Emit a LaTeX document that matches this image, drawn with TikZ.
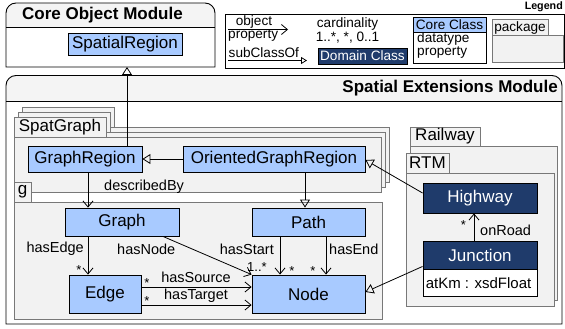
\documentclass[tikz,border=0pt]{standalone}
\usepackage{fontspec}
\setmainfont{Liberation Sans}
\usetikzlibrary{arrows.meta}

\definecolor{clsblue}{RGB}{168,202,255}
\definecolor{domblue}{RGB}{31,59,107}
\definecolor{pkgfill}{RGB}{242,242,242}
\definecolor{pkgline}{RGB}{120,120,120}
\definecolor{hdrfill}{RGB}{244,244,244}

\newcommand\setfs[1]{\fontsize{#1}{#1}\selectfont}

\tikzset{
  cls/.style={draw=black, line width=0.9pt, fill=clsblue, inner sep=0pt, font=\setfs{17}},
  domcls/.style={cls, fill=domblue, text=white},
  attrbox/.style={draw=black, line width=0.9pt, fill=white, inner sep=0pt},
  lbl/.style={inner sep=0pt, font=\setfs{14.5}},
  mult/.style={inner sep=0pt, font=\setfs{13}, anchor=base},
  lgtxt/.style={inner sep=0pt, font=\setfs{13.6}},
  pkg/.style={draw=pkgline, fill=pkgfill, line width=0.8pt},
  pkglbl/.style={inner sep=0pt, font=\setfs{17}},
  modline/.style={draw=black, line width=0.9pt},
  inh/.style={draw=black, line width=0.8pt, -{Triangle[open,length=8pt,width=10pt]}},
  assoc/.style={draw=black, line width=0.8pt, -{Straight Barb[length=6pt,width=10pt]}},
}

\begin{document}
\begin{tikzpicture}[x=1pt,y=1pt]
\useasboundingbox (0,0) rectangle (565,-329);

% ---------- Core Object Module ----------
\fill[hdrfill] (6,-27) -- (6,-13) arc[start angle=180,end angle=90,radius=10]
  -- (205,-3) arc[start angle=90,end angle=0,radius=10] -- (215,-27) -- cycle;
\draw[modline] (6,-67) -- (6,-13) arc[start angle=180,end angle=90,radius=10]
  -- (205,-3) arc[start angle=90,end angle=0,radius=10] -- (215,-67) -- cycle;
\draw[modline] (6,-27) -- (215,-27);
\node[anchor=west, inner sep=0pt, font=\setfs{17}\bfseries] (coretitle) at (22,-15.5) {Core Object Module};
\coordinate (corebottom) at (127,-67);
\node[cls, minimum width=114pt, minimum height=22pt] (sr) at (125,-44) {SpatialRegion};

% ---------- Legend ----------
\draw[modline] (225,-14) rectangle (564,-68);
\node[anchor=east, inner sep=0pt, font=\setfs{10.7}\bfseries] (lgtitle) at (563,-7) {Legend};
\node[lgtxt, anchor=base] (lgobj) at (254,-25.5) {object};
\node[lgtxt, anchor=base west] (lgprop) at (228,-38.5) {property};
\coordinate (lgoa) at (228,-29.5);
\coordinate (lgob) at (288,-29.5);
\draw[assoc] (lgoa) -- (lgob);
\node[lgtxt, anchor=base west] (lgsub) at (228.5,-58) {subClassOf};
\coordinate (lgsa) at (228,-60.5);
\coordinate (lgsb) at (307,-60.5);
\draw[draw=black, line width=0.8pt, -{Triangle[open,length=6pt,width=7pt]}] (lgsa) -- (lgsb);
\node[lgtxt, anchor=base] (lgcard) at (347.5,-27.5) {cardinality};
\node[lgtxt, anchor=base] (lgmult) at (347.5,-41.5) {1..*, *, 0..1};
\node[domcls, font=\setfs{13.6}, minimum width=89pt, minimum height=16pt] (lgdom) at (362.5,-56) {Domain Class};
\node[cls, font=\setfs{13.6}, minimum width=73pt, minimum height=15pt] (lgcore) at (449.5,-24.5) {Core Class};
\node[attrbox, minimum width=73pt, minimum height=31pt, anchor=north] (lgattr) at (lgcore.south) {};
\node[lgtxt, anchor=base west] (lgdt) at (417,-43) {datatype};
\node[lgtxt, anchor=base west] (lgdp) at (417,-56) {property};
\draw[pkg] (492,-19.5) rectangle (548,-35);
\draw[pkg] (492,-35) rectangle (563,-62.5);
\node[lgtxt] (lgpkg) at (520,-27.5) {package};

% ---------- Spatial Extensions Module ----------
\fill[hdrfill] (6,-101) -- (6,-85.5) arc[start angle=180,end angle=90,radius=10]
  -- (552,-75.5) arc[start angle=90,end angle=0,radius=10] -- (562,-101) -- cycle;
\draw[modline] (6,-324) -- (6,-85.5) arc[start angle=180,end angle=90,radius=10]
  -- (552,-75.5) arc[start angle=90,end angle=0,radius=10] -- (562,-324) -- cycle;
\draw[modline] (6,-101) -- (562,-101);
\node[anchor=east, inner sep=0pt, font=\setfs{17}\bfseries] (sptitle) at (558,-88) {Spatial Extensions Module};

% stacked SpatGraph package
\foreach \k in {2,1,0} {
  \begin{scope}[shift={({4*\k},{5*\k})}]
    \draw[pkg] (14,-117) rectangle (106,-137);
    \draw[pkg] (14,-137) rectangle (381,-192);
  \end{scope}
}
\node[pkglbl] (spatlbl) at (60,-127) {SpatGraph};

% package g
\draw[pkg] (14,-182) rectangle (31,-202);
\draw[pkg] (14,-202) rectangle (382,-319);
\node[pkglbl] (glbl) at (22.5,-191.5) {g};

% packages Railway and RTM
\draw[pkg] (410,-127) rectangle (480,-146);
\draw[pkg] (410,-146) rectangle (557,-300);
\node[pkglbl] (raillbl) at (445,-136.5) {Railway};
\draw[pkg] (406,-153) rectangle (449,-173);
\draw[pkg] (406,-173) rectangle (554,-306);
\node[pkglbl] (rtmlbl) at (427.5,-163) {RTM};

% ---------- classes ----------
\node[cls, minimum width=114pt, minimum height=26pt] (gr) at (85,-159) {GraphRegion};
\node[cls, minimum width=182pt, minimum height=26pt] (ogr) at (274,-159) {OrientedGraphRegion};
\node[cls, minimum width=114pt, minimum height=28pt] (gph) at (122,-222) {Graph};
\node[cls, minimum width=113pt, minimum height=28pt] (path) at (308.5,-222) {Path};
\node[cls, minimum width=72pt, minimum height=38pt] (edge) at (105,-294) {Edge};
\node[cls, minimum width=113pt, minimum height=38pt] (nd) at (308.5,-294) {Node};
\node[domcls, minimum width=114pt, minimum height=30pt] (hw) at (480,-198) {Highway};
\node[domcls, minimum width=114pt, minimum height=28pt] (jn) at (480,-255) {Junction};
\node[attrbox, minimum width=114pt, minimum height=27pt, anchor=north] (jnattr) at (jn.south) {};
\node[anchor=west, inner sep=0pt, font=\setfs{15}] (atkm) at ([xshift=3pt]jnattr.west) {atKm : xsdFloat};

% ---------- connectors ----------
\coordinate (xdesc) at (88,0);
\coordinate (xhn) at (163,0);
\coordinate (xhs) at (280,0);
\coordinate (xhe) at (326,0);
\coordinate (xop) at (305,0);
\coordinate (xor) at (474,0);
\coordinate (ysrc) at (0,-287);
\coordinate (ytgt) at (0,-305);

\draw[inh] (corebottom |- gr.north) -- (corebottom);
\draw[inh] (ogr.west) -- (gr.east);
\draw[inh] (xop |- ogr.south) -- (xop |- path.north);
\draw[inh] ([yshift=5pt]hw.west) -- ([yshift=-1pt]ogr.east);
\draw[inh] ([yshift=3pt]jn.south west) -- ([yshift=2pt]nd.east);

\draw[assoc] (xdesc |- gr.south) -- (xdesc |- gph.north);
\draw[assoc] (xdesc |- gph.south) -- (xdesc |- edge.north);
\draw[assoc] (xhn |- gph.south) -- (nd.north west);
\draw[assoc] (xhs |- path.south) -- (xhs |- nd.north);
\draw[assoc] (xhe |- path.south) -- (xhe |- nd.north);
\draw[assoc] (edge.east |- ysrc) -- (nd.west |- ysrc);
\draw[assoc] (edge.east |- ytgt) -- (nd.west |- ytgt);
\draw[assoc] (xor |- jn.north) -- (xor |- hw.south);

% ---------- connector labels ----------
\node[lbl, anchor=west] (ldesc) at (104,-187) {describedBy};
\node[lbl, anchor=east] (ledge) at (84,-249) {hasEdge};
\node[lbl, anchor=west] (lnode) at (117,-249) {hasNode};
\node[lbl, anchor=east] (lstart) at (274,-249) {hasStart};
\node[lbl, anchor=west] (lend) at (329,-249) {hasEnd};
\node[lbl] (lsrc) at (196,-277) {hasSource};
\node[lbl] (ltgt) at (196,-296) {hasTarget};
\node[lbl, anchor=west] (lroad) at (480,-230) {onRoad};

\node[mult] (medge) at (79,-274) {*};
\node[mult] (mnode) at (257,-271.5) {1..*};
\node[mult] (mstart) at (292,-275.5) {*};
\node[mult] (mend) at (313,-275.5) {*};
\node[mult] (msrc) at (147,-287.5) {*};
\node[mult] (mtgt) at (147,-305.8) {*};
\node[mult] (mroad) at (463.3,-229.2) {*};
\end{tikzpicture}
\end{document}
